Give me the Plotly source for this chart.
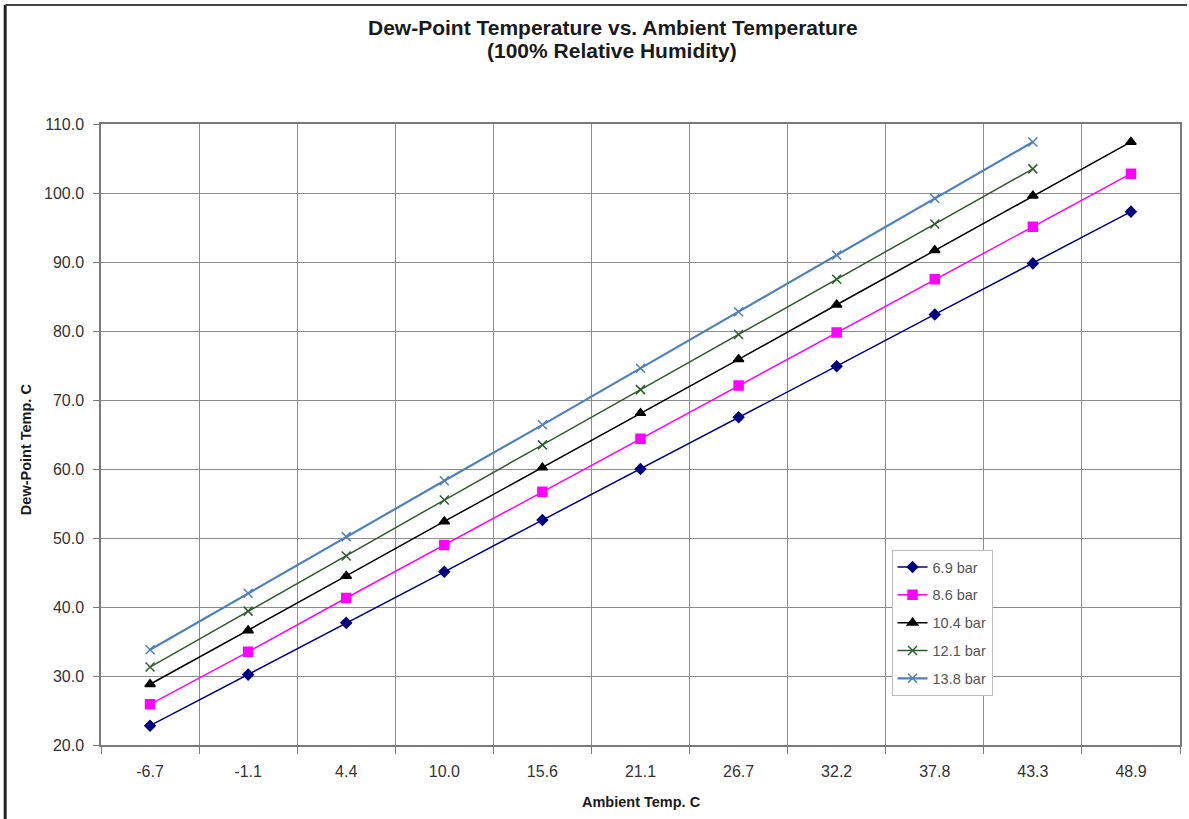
import plotly.graph_objects as go

ambient = ['-6.7', '-1.1', '4.4', '10.0', '15.6', '21.1', '26.7', '32.2', '37.8', '43.3', '48.9']

bar_6_9 = [22.8, 30.2, 37.7, 45.1, 52.6, 60.0, 67.5, 74.9, 82.4, 89.8, 97.3]
bar_8_6 = [25.9, 33.5, 41.3, 49.0, 56.7, 64.4, 72.1, 79.8, 87.5, 95.1, 102.8]
bar_10_4 = [28.8, 36.6, 44.5, 52.4, 60.2, 68.1, 75.9, 83.8, 91.7, 99.6, 107.4]
bar_12_1 = [31.3, 39.4, 47.4, 55.5, 63.5, 71.5, 79.5, 87.5, 95.5, 103.5]
bar_13_8 = [33.8, 42.0, 50.2, 58.3, 66.4, 74.6, 82.8, 91.0, 99.2, 107.4]

series = [
    ('6.9 bar', bar_6_9, '#000080', 'diamond', 8, 1.5),
    ('8.6 bar', bar_8_6, '#ff00ff', 'square', 9, 1.5),
    ('10.4 bar', bar_10_4, '#000000', 'triangle-up', 9, 1.5),
    ('12.1 bar', bar_12_1, '#2e5e2e', 'x-thin-open', 9, 1.5),
    ('13.8 bar', bar_13_8, '#4f81bd', 'x-thin-open', 9, 2.2),
]

W, H = 1189, 819
# plot area in pixels: x 101..1182, y 124..745
L, R, T, B = 101, 7, 124, 74
pw, ph = W - L - R, H - T - B

fig = go.Figure()
for name, vals, col, sym, sz, lw in series:
    fig.add_trace(go.Scatter(x=ambient[:len(vals)], y=vals, name=name, legendgroup=name,
                             mode='lines+markers',
                             line={'color': col, 'width': lw},
                             marker={'symbol': sym, 'size': sz, 'color': col,
                                     'line': {'color': col, 'width': 1.5}}))

fig.update_layout(
    width=W, height=H,
    margin={'l': L, 'r': R, 't': T, 'b': B},
    paper_bgcolor='white', plot_bgcolor='white',
    font={'family': 'Arial', 'color': '#333333'},
    showlegend=True,
    legend={'x': (893 - L) / pw, 'y': (H - B - 550) / ph, 'xanchor': 'left', 'yanchor': 'top',
            'bgcolor': 'white', 'bordercolor': '#bbbbbb', 'borderwidth': 1,
            'font': {'size': 14.5, 'color': '#555555'},
            'tracegroupgap': 6, 'itemwidth': 30},
    xaxis={'type': 'category', 'tickson': 'boundaries',
           'showgrid': True, 'gridcolor': '#8c8c8c', 'gridwidth': 1,
           'showline': True, 'linecolor': '#7a7a7a', 'linewidth': 2, 'mirror': True,
           'ticks': 'outside', 'ticklen': 7, 'tickcolor': '#7a7a7a',
           'tickfont': {'size': 16, 'color': '#333333'},
           'ticklabelstandoff': 11,
           'range': [-0.5, 10.5]},
    yaxis={'range': [20, 110], 'dtick': 10, 'tickformat': '.1f',
           'showgrid': True, 'gridcolor': '#8c8c8c', 'gridwidth': 1,
           'showline': True, 'linecolor': '#7a7a7a', 'linewidth': 1.5, 'mirror': True,
           'ticks': 'outside', 'ticklen': 6, 'tickcolor': '#7a7a7a',
           'tickfont': {'size': 16, 'color': '#333333'},
           'ticklabelstandoff': 6,
           'zeroline': False},
)


def px_x(x):
    return (x - L) / pw


def px_y(y):
    return (H - B - y) / ph


titles = [
    ('<b>Dew-Point Temperature vs. Ambient Temperature</b>', 614, 28, 21, 0),
    ('<b>(100% Relative Humidity)</b>', 613, 51, 21, 0),
    ('<b>Ambient Temp. C</b>', 643, 802, 14.5, 0),
    ('<b>Dew-Point Temp. C</b>', 26, 449, 14.5, -90),
]
for text, x, y, size, ang in titles:
    fig.add_annotation(text=text, xref='paper', yref='paper', x=px_x(x), y=px_y(y),
                       xanchor='center', yanchor='middle', showarrow=False, textangle=ang,
                       font={'size': size, 'color': '#1a1a1a'})

# outer frame of the original chart image
fig.add_shape(type='line', xref='paper', yref='paper',
              x0=px_x(5), x1=px_x(5), y0=px_y(H), y1=px_y(5),
              line={'color': '#222222', 'width': 3})
fig.add_shape(type='line', xref='paper', yref='paper',
              x0=px_x(5), x1=px_x(W), y0=px_y(5), y1=px_y(5),
              line={'color': '#444444', 'width': 2})

fig.write_html('out.html', config={'displayModeBar': False},
               post_script="document.body.style.margin='0';")
